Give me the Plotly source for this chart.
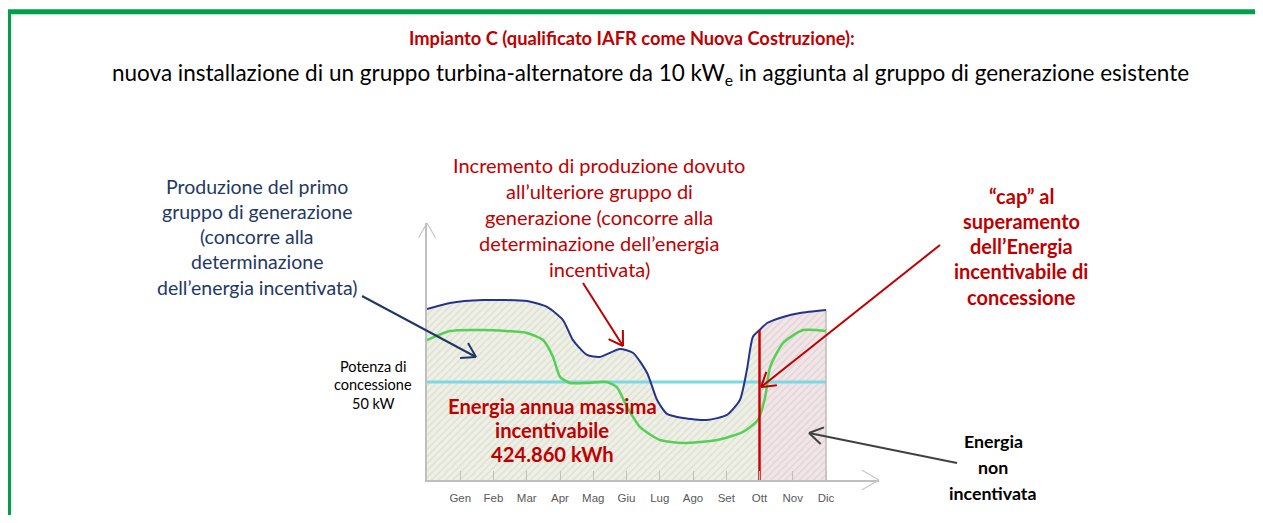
import math
import plotly.graph_objects as go

# page is 1263x523; the html body has an 8px margin, so the figure is drawn 8px in
W, H = 1263, 523
OFF = 8
FW, FH = W - 2 * OFF, H - 2 * OFF

# ---------------- data ----------------
months = ["Gen", "Feb", "Mar", "Apr", "Mag", "Giu", "Lug", "Ago", "Set", "Ott", "Nov", "Dic"]
month_idx = list(range(12))

# total production (blue), month index (0=Gen) vs kW
blue_x = [-1.0, -0.31, 0.68, 2.01, 2.61, 3.09, 3.39, 3.81, 4.20, 4.80, 5.20, 5.62, 5.92,
          6.22, 6.70, 7.42, 8.02, 8.41, 8.62, 8.80, 9.0, 9.23, 9.71, 10.22, 11.0]
blue_y = [87.2, 90.3, 91.8, 91.3, 88.3, 81.6, 71.4, 63.8, 62.8, 66.8, 64.8, 54.6, 40.8,
          33.7, 31.6, 30.6, 33.2, 40.8, 56.1, 73.0, 76.5, 80.1, 83.2, 85.2, 86.7]

# first generation group (green)
green_x = [-1.0, -0.31, 0.68, 2.01, 2.49, 2.79, 3.0, 3.30, 3.81, 4.41, 4.71, 5.02, 5.41,
           6.01, 6.70, 7.72, 8.50, 8.95, 9.17, 9.32, 9.71, 10.31, 11.0]
green_y = [71.4, 76.0, 76.5, 75.0, 71.4, 62.8, 52.6, 49.5, 49.5, 50.0, 47.4, 37.2, 27.0,
           20.4, 18.9, 20.4, 24.5, 30.6, 42.3, 57.7, 69.9, 76.5, 76.0]

potenza_concessione = 50.0   # kW
cap_month = 9.0              # Ott
cap_value = 76.5
end_month = 11.0
end_value = 86.7

# ---------------- geometry helpers (page pixels -> paper) ----------------
def px(x):
    return (x - OFF) / FW

def py(y):
    return 1 - (y - OFF) / FH

X0, X1 = 427, 879          # plot area pixels
Y0, Y1 = 480, 223
XS = 33.25                 # px per month
YS = 1.96                  # px per kW
xr = [-1, -1 + (X1 - X0) / XS]
yr = [0, (Y0 - Y1) / YS]

fig = go.Figure()

left_x = [x for x in blue_x if x <= cap_month]
left_y = [y for x, y in zip(blue_x, blue_y) if x <= cap_month]
right_x = [x for x in blue_x if x >= cap_month]
right_y = [y for x, y in zip(blue_x, blue_y) if x >= cap_month]

fig.add_trace(go.Scatter(x=left_x, y=left_y, mode="lines", line=dict(width=0, shape="spline", smoothing=0.6),
                         fill="tozeroy", fillcolor="rgba(0,0,0,0)",
                         fillpattern=dict(shape="/", bgcolor="#EEF0E6", fgcolor="#C5C9B8", size=5, solidity=0.25),
                         hoverinfo="skip", showlegend=False))
fig.add_trace(go.Scatter(x=right_x, y=right_y, mode="lines", line=dict(width=0, shape="spline", smoothing=0.6),
                         fill="tozeroy", fillcolor="rgba(0,0,0,0)",
                         fillpattern=dict(shape="/", bgcolor="#F1E5E7", fgcolor="#CDBFC1", size=5, solidity=0.25),
                         hoverinfo="skip", showlegend=False))

# concession power line
fig.add_trace(go.Scatter(x=[-1, end_month], y=[potenza_concessione] * 2, mode="lines",
                         line=dict(color="#7DD8E4", width=3), hoverinfo="skip", showlegend=False))
# Dic edge
fig.add_trace(go.Scatter(x=[end_month, end_month], y=[0, end_value], mode="lines",
                         line=dict(color="#BDBDBD", width=1.5), hoverinfo="skip", showlegend=False))
# green curve
fig.add_trace(go.Scatter(x=green_x, y=green_y, mode="lines",
                         line=dict(color="#55D055", width=2.5, shape="spline", smoothing=0.6),
                         hoverinfo="skip", showlegend=False))
# blue curve
fig.add_trace(go.Scatter(x=blue_x, y=blue_y, mode="lines",
                         line=dict(color="#26328C", width=2, shape="spline", smoothing=0.6),
                         hoverinfo="skip", showlegend=False))
# cap line
fig.add_trace(go.Scatter(x=[cap_month, cap_month], y=[0, cap_value], mode="lines",
                         line=dict(color="#D00000", width=2.5), hoverinfo="skip", showlegend=False))

fig.update_xaxes(domain=[px(X0), px(X1)], range=xr, showgrid=False, zeroline=False,
                 showline=True, linecolor="#BFBFBF", linewidth=1.5,
                 tickvals=month_idx, ticktext=months, ticks="inside", ticklen=9,
                 tickcolor="#BFBFBF", tickwidth=1.2, ticklabelstandoff=6,
                 tickfont=dict(family="Liberation Sans, Arial", size=11.5, color="#595959"))
fig.update_yaxes(domain=[py(Y0), py(Y1)], range=yr, showgrid=False, zeroline=False,
                 showline=True, linecolor="#BFBFBF", linewidth=1.5, showticklabels=False, ticks="")

shapes = []
# green frame
shapes.append(dict(type="rect", xref="paper", yref="paper", x0=px(8.5), y0=py(560), x1=px(1300), y1=py(11.7),
                   line=dict(color="#00A04A", width=5), fillcolor="rgba(0,0,0,0)", layer="above"))

def seg(x0, y0, x1, y1, color, w):
    shapes.append(dict(type="line", xref="paper", yref="paper", x0=px(x0), y0=py(y0), x1=px(x1), y1=py(y1),
                       line=dict(color=color, width=w), layer="above"))

def arrow(x0, y0, x1, y1, color, w, L=14, ang=30, body=True):
    dx, dy = x1 - x0, y1 - y0
    d = math.hypot(dx, dy)
    ux, uy = -dx / d, -dy / d
    if body:
        seg(x0, y0, x1, y1, color, w)
    for s in (1, -1):
        a = math.radians(ang * s)
        rx = ux * math.cos(a) - uy * math.sin(a)
        ry = ux * math.sin(a) + uy * math.cos(a)
        seg(x1, y1, x1 + L * rx, y1 + L * ry, color, w)

# axis arrowheads
arrow(427, 260, 427, 223, "#C4C4C4", 1.2, L=17, ang=30, body=False)
arrow(840, 480, 879, 480, "#C4C4C4", 1.2, L=20, ang=30, body=False)
# callout arrows
arrow(362, 296, 476, 357, "#1F3864", 2, L=16, ang=32)
arrow(583, 283, 623, 346, "#C00000", 2, L=16, ang=32)
arrow(940, 245, 761, 387, "#C00000", 2, L=16, ang=32)
arrow(957, 463, 809, 433, "#404040", 2, L=16, ang=32)

annotations = []

def text(x, y, s, size, color, bold=False, family="Lato"):
    annotations.append(dict(xref="paper", yref="paper", x=px(x), y=py(y), xanchor="center", yanchor="middle",
                            text=f"<b>{s}</b>" if bold else s, showarrow=False,
                            font=dict(family=family, size=size, color=color)))

def block(x, ys, lines, size, color, bold=False):
    for y, s in zip(ys, lines):
        text(x, y, s, size, color, bold)

title = "Impianto C (qualificato IAFR come Nuova Costruzione):"
subtitle = "nuova installazione di un gruppo turbina-alternatore da 10 kW<sub>e</sub> in aggiunta al gruppo di generazione esistente"
text(632, 38, title, 18.3, "#C00000", bold=True)
text(650, 74, subtitle, 22.5, "#000000")

block(257, [186, 211, 236, 261, 287],
      ["Produzione del primo", "gruppo di generazione", "(concorre alla", "determinazione",
       "dell\u2019energia incentivata)"], 19.5, "#1F3864")
block(599, [165, 191, 217, 243, 269],
      ["Incremento di produzione dovuto", "all\u2019ulteriore gruppo di", "generazione (concorre alla",
       "determinazione dell\u2019energia", "incentivata)"], 20, "#C00000")
block(1021, [196, 221, 246, 271, 297],
      ["\u201ccap\u201d al", "superamento", "dell\u2019Energia", "incentivabile di", "concessione"],
      20, "#C00000", bold=True)
block(373, [366, 384, 403], ["Potenza di", "concessione", "50 kW"], 14.5, "#000000")
block(552, [406, 430, 454], ["Energia annua massima", "incentivabile", "424.860 kWh"], 20.2, "#C00000", bold=True)
block(993, [441, 467, 493], ["Energia", "non", "incentivata"], 17.8, "#000000", bold=True)

fig.update_layout(width=FW, height=FH, margin=dict(l=0, r=0, t=0, b=0),
                  paper_bgcolor="white", plot_bgcolor="rgba(0,0,0,0)",
                  shapes=shapes, annotations=annotations, showlegend=False)

fig.write_html("out.html")
